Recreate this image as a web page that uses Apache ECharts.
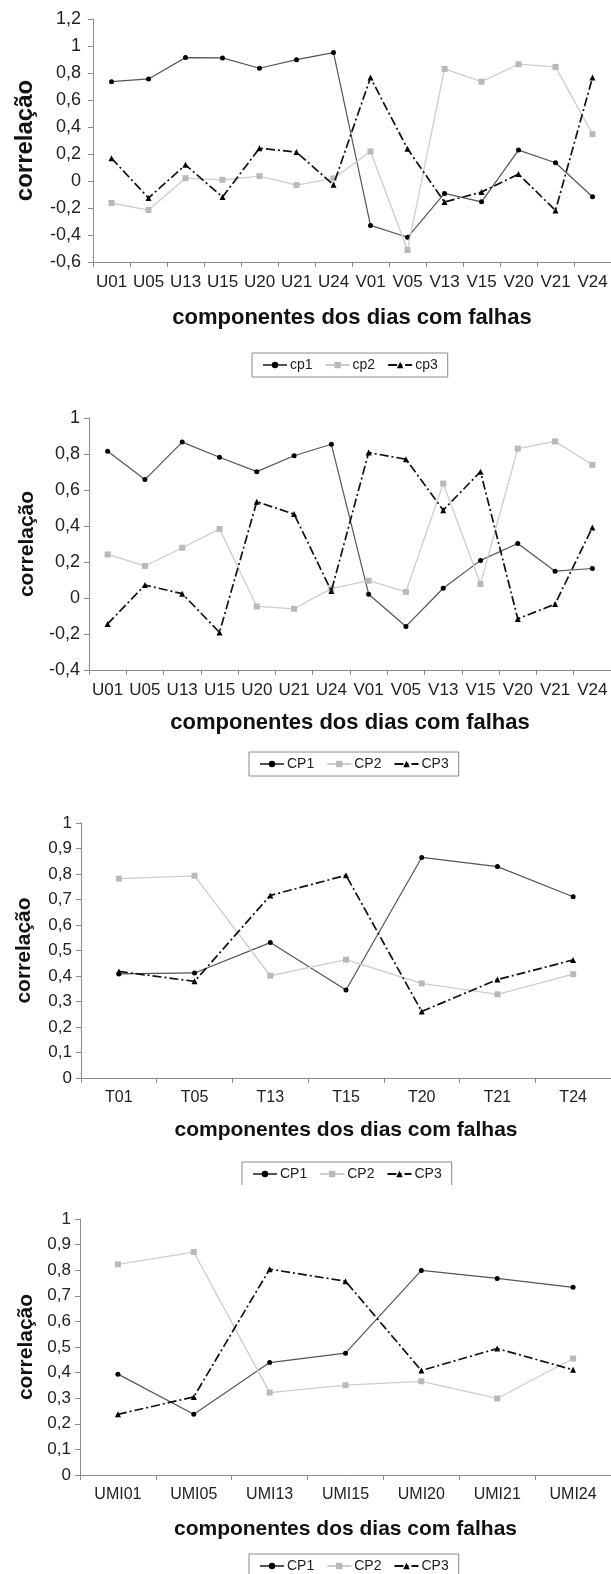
<!DOCTYPE html>
<html>
<head>
<meta charset="utf-8">
<script src="https://cdn.jsdelivr.net/npm/echarts@6/dist/echarts.min.js"></script>
<style>
  html, body { margin: 0; padding: 0; background: #fff; }
  #main { width: 611px; height: 1574px; }
</style>
</head>
<body>
<div id="main"></div>
<script>
// Categories (component of each failure day)
const catsUV = ['U01','U05','U13','U15','U20','U21','U24','V01','V05','V13','V15','V20','V21','V24'];
const catsT = ['T01','T05','T13','T15','T20','T21','T24'];
const catsUMI = ['UMI01','UMI05','UMI13','UMI15','UMI20','UMI21','UMI24'];

// Panel 1 (wind components, lower-case legend)
const p1cp1 = [0.736, 0.756, 0.914, 0.912, 0.835, 0.899, 0.951, -0.329, -0.417, -0.092, -0.154, 0.229, 0.135, -0.117];
const p1cp2 = [-0.163, -0.215, 0.021, 0.009, 0.036, -0.030, 0.019, 0.219, -0.511, 0.830, 0.736, 0.865, 0.845, 0.347];
const p1cp3 = [0.169, -0.126, 0.120, -0.119, 0.243, 0.214, -0.028, 0.766, 0.238, -0.156, -0.082, 0.051, -0.218, 0.766];

// Panel 2
const p2cp1 = [0.815, 0.658, 0.866, 0.782, 0.702, 0.790, 0.854, 0.021, -0.158, 0.054, 0.209, 0.303, 0.149, 0.164];
const p2cp2 = [0.242, 0.178, 0.279, 0.383, -0.047, -0.060, 0.052, 0.096, 0.034, 0.636, 0.078, 0.830, 0.870, 0.740];
const p2cp3 = [-0.144, 0.072, 0.024, -0.191, 0.535, 0.466, 0.039, 0.808, 0.771, 0.488, 0.702, -0.116, -0.034, 0.392];

// Panel 3 (temperature)
const p3cp1 = [0.408, 0.412, 0.531, 0.345, 0.865, 0.829, 0.711];
const p3cp2 = [0.782, 0.793, 0.401, 0.464, 0.371, 0.328, 0.407];
const p3cp3 = [0.418, 0.379, 0.716, 0.795, 0.261, 0.386, 0.463];

// Panel 4 (humidity)
const p4cp1 = [0.394, 0.237, 0.439, 0.476, 0.799, 0.768, 0.733];
const p4cp2 = [0.823, 0.871, 0.322, 0.351, 0.366, 0.299, 0.455];
const p4cp3 = [0.237, 0.305, 0.804, 0.757, 0.408, 0.494, 0.411];

// Value axis ranges per panel
const yMin = [-0.6, -0.4, 0, 0];
const yMax = [1.2, 1, 1, 1];
const yStep = [0.2, 0.2, 0.1, 0.1];

const xTitle = 'componentes dos dias com falhas';
const yTitle = 'correlação';
const namesLower = ['cp1', 'cp2', 'cp3'];
const namesUpper = ['CP1', 'CP2', 'CP3'];

const FONT = '"Liberation Sans", Arial, sans-serif';
const AXIS_GREY = '#8c8c8c';

// Panel geometry
const panels = [
  { cats: catsUV,  data: [p1cp1, p1cp2, p1cp3], names: namesLower,
    grid: { left: 93, top: 19, width: 520, height: 243 },
    yFont: 18, xFont: 17, titleFont: 22, yNameFont: 24, yNameGap: 56, yMargin: 12, xNameGap: 45, legendTop: 353, legendLeft: 252 },
  { cats: catsUV,  data: [p2cp1, p2cp2, p2cp3], names: namesUpper,
    grid: { left: 89, top: 418, width: 528, height: 252 },
    yFont: 18, xFont: 17, titleFont: 22, yNameFont: 21, yNameGap: 51, yMargin: 9, xNameGap: 42, legendTop: 752, legendLeft: 249 },
  { cats: catsT,   data: [p3cp1, p3cp2, p3cp3], names: namesUpper,
    grid: { left: 81, top: 823, width: 536, height: 255 },
    yFont: 17, xFont: 16, titleFont: 21, yNameFont: 21, yNameGap: 46, yMargin: 9, xNameGap: 42, legendTop: 1162, legendLeft: 242 },
  { cats: catsUMI, data: [p4cp1, p4cp2, p4cp3], names: namesUpper,
    grid: { left: 80, top: 1219, width: 538, height: 256 },
    yFont: 17, xFont: 16, titleFont: 21, yNameFont: 21, yNameGap: 42, yMargin: 9, xNameGap: 44, legendTop: 1554, legendLeft: 249 }
];

function fmt(v) {
  return String(+v.toFixed(1)).replace('.', ',');
}

const seriesStyles = [
  { symbol: 'circle', symbolSize: 5, itemStyle: { color: '#000' },
    lineStyle: { color: '#555', width: 1.2, type: 'solid' } },
  { symbol: 'rect', symbolSize: 6, itemStyle: { color: '#b9b9b9' },
    lineStyle: { color: '#cdcdcd', width: 1.3, type: 'solid' } },
  { symbol: 'triangle', symbolSize: 6, itemStyle: { color: '#000' },
    lineStyle: { color: '#111', width: 1.7, type: [9, 3, 2, 3] } }
];

const grid = [], xAxis = [], yAxis = [], series = [], legend = [];

panels.forEach((p, i) => {
  grid.push(Object.assign({ containLabel: false }, p.grid));
  xAxis.push({
    type: 'category', gridIndex: i, data: p.cats, boundaryGap: true,
    name: xTitle, nameLocation: 'middle', nameGap: p.xNameGap,
    nameTextStyle: { fontFamily: FONT, fontWeight: 'bold', fontSize: p.titleFont, color: '#111' },
    // category axis sits on the bottom of the value range, not on zero
    axisLine: { show: true, onZero: false, lineStyle: { color: AXIS_GREY, width: 1 } },
    axisTick: { show: true, alignWithLabel: false, length: 5, inside: false, lineStyle: { color: AXIS_GREY } },
    axisLabel: { interval: 0, margin: 12, fontFamily: FONT, fontSize: p.xFont, color: '#222' },
    splitLine: { show: false }
  });
  yAxis.push({
    type: 'value', gridIndex: i, min: yMin[i], max: yMax[i], interval: yStep[i],
    name: yTitle, nameLocation: 'middle', nameGap: p.yNameGap, nameRotate: 90,
    nameTextStyle: { fontFamily: FONT, fontWeight: 'bold', fontSize: p.yNameFont, color: '#111' },
    axisLine: { show: true, onZero: false, lineStyle: { color: AXIS_GREY, width: 1 } },
    axisTick: { show: true, length: 5, lineStyle: { color: AXIS_GREY } },
    axisLabel: { margin: p.yMargin, fontFamily: FONT, fontSize: p.yFont, color: '#222', formatter: fmt },
    splitLine: { show: false }
  });
  p.data.forEach((vals, k) => {
    const st = seriesStyles[k];
    series.push({
      type: 'line', name: p.names[k], xAxisIndex: i, yAxisIndex: i,
      data: vals, symbol: st.symbol, symbolSize: st.symbolSize,
      itemStyle: st.itemStyle, lineStyle: st.lineStyle,
      showSymbol: true, animation: false, z: 2 + k
    });
  });
  legend.push({
    data: p.names, left: p.legendLeft, top: p.legendTop, orient: 'horizontal',
    itemWidth: 24, itemHeight: 8, itemGap: 12,
    padding: [5, 10, 5, 10], borderColor: '#8a8a8a', borderWidth: 1, borderRadius: 0,
    backgroundColor: '#fff',
    textStyle: { fontFamily: FONT, fontSize: 14, color: '#222', padding: [0, 0, 0, -2] },
    selectedMode: false
  });
});

const chart = echarts.init(document.getElementById('main'), null, { renderer: 'canvas' });
chart.setOption({
  backgroundColor: '#fff',
  animation: false,
  grid, xAxis, yAxis, series, legend,
  // The third panel's legend box runs under the top edge of the fourth panel
  graphic: [{
    type: 'rect', z: 100, left: 0, top: 1185,
    shape: { width: 611, height: 10 }, style: { fill: '#fff' }, silent: true
  }]
});
</script>
</body>
</html>
